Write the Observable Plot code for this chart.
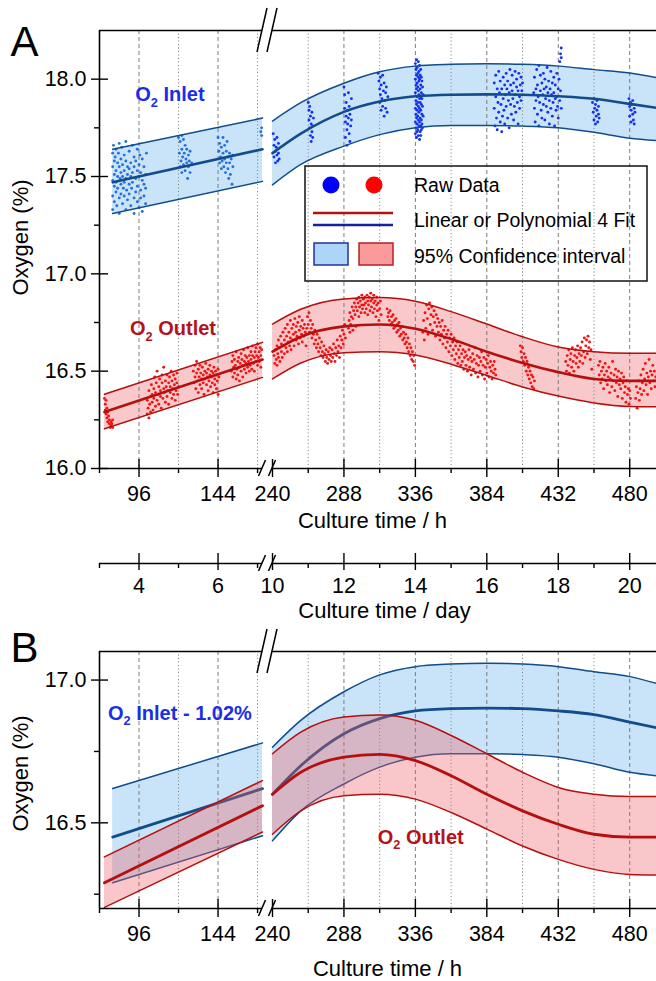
<!DOCTYPE html>
<html><head><meta charset="utf-8">
<script src="https://cdn.jsdelivr.net/npm/d3@7"></script>
<script src="https://cdn.jsdelivr.net/npm/@observablehq/plot@0.6"></script>
<style>
html,body{margin:0;padding:0;background:#fff;}
#fig{position:relative;width:656px;height:981px;overflow:hidden;}
#fig svg{display:block;overflow:visible;}
</style></head><body><div id="fig"></div>
<script>
// ---------- axis structure (hours) ----------
const segLeft = [72, 171];
const segRight = [240, 498];
const majorTicksH = [96, 144, 240, 288, 336, 384, 432, 480];
const minorTicksH = [72, 120, 168, 264, 312, 360, 408, 456];
const gridMajorH = [96, 144, 288, 336, 384, 432, 480];
const gridMinorH = [120, 168, 264, 312, 360, 408, 456];
const yDomainA = [16.0, 18.25];
const yTicksA = [16.0, 16.5, 17.0, 17.5, 18.0];
const yMinorA = [16.25, 16.75, 17.25, 17.75];
const yDomainB = [16.2, 17.1];
const yTicksB = [16.5, 17.0];
const yMinorB = [16.25, 16.75];
const inletShift = 1.02;

// ---------- fits (linear left, polynomial right) ----------
const inletLeftHours = [80, 171];
const inletLeftLo = [17.31, 17.475];
const inletLeftMid = [17.47, 17.64];
const inletLeftUp = [17.64, 17.80];
const outletLeftHours = [75, 171];
const outletLeftLo = [16.204, 16.468];
const outletLeftMid = [16.29, 16.56];
const outletLeftUp = [16.381, 16.648];
const fitHoursRight = [240, 259, 288, 312, 336, 360, 384, 408, 432, 456, 480, 498];
const inletRightLo = [17.457, 17.562, 17.656, 17.715, 17.75, 17.762, 17.762, 17.759, 17.75, 17.727, 17.697, 17.685];
const inletRightMid = [17.62, 17.72, 17.832, 17.885, 17.912, 17.92, 17.922, 17.92, 17.912, 17.899, 17.873, 17.853];
const inletRightUp = [17.785, 17.879, 17.979, 18.038, 18.067, 18.076, 18.079, 18.076, 18.067, 18.049, 18.032, 18.008];
const outletRightLo = [16.46, 16.542, 16.595, 16.60, 16.583, 16.536, 16.478, 16.419, 16.372, 16.337, 16.319, 16.317];
const outletRightMid = [16.60, 16.677, 16.73, 16.74, 16.718, 16.665, 16.60, 16.542, 16.495, 16.46, 16.45, 16.45];
const outletRightUp = [16.742, 16.818, 16.871, 16.878, 16.859, 16.806, 16.742, 16.677, 16.624, 16.60, 16.592, 16.592];

// ---------- raw data [hour, O2 %] ----------
const inletRawLeft = [
[80,17.62],[80,17.55],[80,17.48],[80,17.40],[80,17.33],[80.5,17.66],[81,17.58],[81,17.51],[81,17.45],[81,17.37],[81.5,17.60],[82,17.64],[82,17.53],[82,17.47],[82,17.42],[82.5,17.35],[83,17.57],[83,17.50],[83,17.44],[83.5,17.62],[84,17.67],[84,17.55],[84,17.39],[84,17.31],[84.5,17.49],[85,17.59],[85,17.52],[85,17.46],[85,17.41],[85.5,17.65],[86,17.56],[86,17.50],[86,17.36],[86.5,17.44],[87,17.61],[87,17.53],[87,17.47],[87,17.40],[88,17.68],[88,17.58],[88,17.49],[88,17.33],[88.5,17.43],[89,17.55],[89,17.51],[89,17.38],[90,17.63],[90,17.54],[90,17.46],[90,17.41],[91,17.57],[91,17.50],[91,17.35],[91.5,17.44],[92,17.66],[92,17.52],[92,17.47],[93,17.60],[93,17.55],[93,17.39],[93,17.31],[94,17.58],[94,17.49],[94,17.42],[95,17.64],[95,17.53],[95,17.45],[95,17.37],[96,17.56],[96,17.50],[96,17.34],[96.5,17.61],[97,17.52],[97,17.43],[97,17.39],[98,17.59],[98,17.48],[98,17.32],[99,17.55],[99,17.46],[99,17.40],[100,17.51],[100,17.44],[100,17.36],[100.5,17.62],
[120,17.70],[120.5,17.62],[121,17.55],[121,17.68],[121.5,17.58],[122,17.71],[122,17.64],[122,17.52],[122.5,17.60],[123,17.69],[123,17.56],[123.5,17.62],[124,17.66],[124,17.53],[124.5,17.59],[125,17.64],[125,17.57],[125.5,17.49],[126,17.61],[126,17.55],[126.5,17.58],[127,17.52],[127,17.63],[128,17.57],
[144,17.70],[144.5,17.63],[145,17.57],[145,17.67],[145.5,17.60],[146,17.54],[146,17.65],[146.5,17.58],[147,17.70],[147,17.62],[147.5,17.55],[148,17.66],[148,17.59],[148.5,17.52],[149,17.63],[149,17.57],[149.5,17.68],[150,17.60],[150,17.54],[150.5,17.49],[151,17.62],[151,17.57],[151.5,17.51],[152,17.59],[152.5,17.46],[153,17.55],[153,17.61],
[170,17.73],[170.5,17.71],[170.5,17.75]
];
const inletRawRight = [
[240.5,17.72],[241,17.66],[241,17.60],[241.5,17.69],[242,17.63],[242,17.57],[242.5,17.65],[243,17.70],[243,17.61],[243.5,17.58],[244,17.67],[244,17.62],[244.5,17.59],
[264,17.88],[264.5,17.84],[264.5,17.79],[265,17.75],[265,17.86],[265.5,17.71],[265.5,17.81],[266,17.68],[266,17.77],[266.5,17.73],[266.5,17.83],[267,17.70],[267,17.76],[267.5,17.80],
[288,17.96],[288.5,17.92],[288.5,17.85],[289,17.78],[289,17.70],[289.5,17.88],[289.5,17.81],[290,17.74],[290,17.66],[290.5,17.84],[290.5,17.77],[291,17.93],[291,17.80],[291.5,17.72],[291.5,17.86],[292,17.68],[292,17.82],[292.5,17.76],[293,17.90],[293,17.79],
[311,18.03],[311.5,17.99],[312,17.95],[312,17.88],[312.5,18.01],[312.5,17.92],[313,17.84],[313,17.97],[313.5,17.90],[314,18.02],[314,17.86],[314.5,17.94],[315,17.81],[315,17.98],[315.5,17.89],[316,17.93],[316,17.85],[316.5,17.96],[317,17.83],[317.5,17.91],
[336,18.08],[336,18.00],[336,17.93],[336,17.85],[336,17.78],[336,17.72],[336.4,18.05],[336.4,17.97],[336.4,17.89],[336.4,17.82],[336.4,17.75],[336.8,18.10],[336.8,18.02],[336.8,17.95],[336.8,17.87],[336.8,17.80],[336.8,17.70],[337.2,18.06],[337.2,17.98],[337.2,17.91],[337.2,17.84],[337.2,17.77],[337.2,17.73],[337.6,18.03],[337.6,17.96],[337.6,17.88],[337.6,17.81],[337.6,17.74],[338,18.09],[338,18.01],[338,17.94],[338,17.86],[338,17.79],[338,17.71],[338.4,18.04],[338.4,17.99],[338.4,17.92],[338.4,17.83],[338.4,17.76],[338.8,18.07],[338.8,18.00],[338.8,17.90],[338.8,17.85],[338.8,17.78],[338.8,17.69],[339.2,18.02],[339.2,17.95],[339.2,17.88],[339.2,17.80],[339.2,17.73],[339.6,18.05],[339.6,17.97],[339.6,17.91],[339.6,17.84],[339.6,17.76],[339.6,17.71],[340,18.01],[340,17.93],[340,17.87],[340,17.79],[340,17.74],[340.4,17.99],[340.4,17.90],[340.4,17.82],[340.4,17.77],[340.8,17.96],[340.8,17.86],[340.8,17.75],[341.2,17.92],[341.2,17.81],
[389,17.98],[389,17.85],[389.5,17.76],[390,18.02],[390,17.91],[390.5,17.80],[391,17.95],[391,17.74],[391.5,17.88],[392,18.04],[392,17.83],[392.5,17.93],[393,17.78],[393,17.99],[393.5,17.87],[394,17.95],[394,17.73],[394.5,17.81],[395,18.01],[395,17.90],[395.5,17.84],[396,17.97],[396,17.77],[396.5,17.92],[397,18.03],[397,17.86],[397.5,17.95],[398,17.80],[398,17.99],[398.5,17.89],[399,17.93],[399,17.75],[399.5,18.05],[400,17.87],[400,17.97],[400.5,17.82],[401,17.94],[401,18.02],[401.5,17.90],[402,17.79],[402,17.98],[402.5,17.86],[403,18.04],[403,17.92],[403.5,17.83],[404,17.96],[404,18.00],[404.5,17.88],[405,17.94],[405,17.77],[405.5,18.03],[406,17.91],[406,17.85],[406.5,17.97],[407,18.01],[407,17.89],[407.5,17.94],[408,17.98],
[415.5,17.93],[416,17.85],[416,18.01],[416.5,17.78],[417,17.95],[417,17.89],[417.5,18.05],[418,17.82],[418,17.97],[418.5,17.91],[419,18.07],[419,17.76],[419.5,17.88],[420,17.94],[420,18.02],[420.5,17.84],[421,17.98],[421,17.80],[421.5,17.92],[422,18.03],[422,17.87],[422.5,17.95],[423,17.79],[423,18.00],[423.5,17.90],[424,17.86],[424,17.96],[424.5,18.06],[425,17.83],[425,17.93],[425.5,17.99],[426,17.77],[426,17.89],[426.5,17.95],[427,18.04],[427,17.85],[427.5,17.92],[428,17.81],[428,17.98],[428.5,17.88],[429,18.01],[429,17.93],[429.5,17.76],[430,17.90],[430,17.97],[430.5,17.84],[431,18.03],[431,17.91],[431.5,17.86],[432,17.95],[432,17.80],[432.5,18.00],[433,17.89],[433,18.09],[433.5,18.13],[434,18.16],[434,18.11],[433.5,17.94],[434,17.85],
[455,17.88],[455.5,17.83],[456,17.79],[456,17.90],[456.5,17.85],[457,17.77],[457,17.87],[457.5,17.81],[458,17.84],[458,17.89],[458.5,17.78],[459,17.86],[459,17.82],[459.5,17.80],
[479.5,17.90],[480,17.86],[480,17.81],[480.5,17.88],[481,17.84],[481,17.78],[481.5,17.87],[482,17.82],[482,17.89],[482.5,17.79],[483,17.85],[483,17.77],[483.5,17.83]
];
const outletRawLeft = [
[75,16.36],[75.5,16.33],[75.5,16.30],[76,16.35],[76,16.28],[76.5,16.31],[76.5,16.26],[77,16.29],[77,16.24],[77.5,16.27],[78,16.23],[78,16.25],[78.5,16.21],[79,16.24],[79,16.22],[79.5,16.23],[80,16.21],[80,16.25],
[101,16.28],[101,16.35],[101.5,16.31],[102,16.26],[102,16.40],[102.5,16.33],[103,16.37],[103,16.29],[103.5,16.43],[104,16.34],[104,16.38],[104.5,16.30],[105,16.41],[105,16.36],[105.5,16.47],[106,16.32],[106,16.39],[106.5,16.44],[107,16.35],[107,16.50],[107.5,16.38],[108,16.42],[108,16.33],[108.5,16.46],[109,16.37],[109,16.40],[109.5,16.31],[110,16.44],[110,16.48],[110.5,16.36],[111,16.41],[111,16.52],[111.5,16.39],[112,16.34],[112,16.45],[112.5,16.42],[113,16.48],[113,16.37],[113.5,16.40],[114,16.44],[114,16.33],[114.5,16.47],[115,16.39],[115,16.42],[115.5,16.50],[116,16.36],[116,16.45],[116.5,16.41],[117,16.48],[117,16.38],[117.5,16.43],[118,16.46],[118,16.35],[118.5,16.40],[119,16.44],[119,16.49],[119.5,16.38],[120,16.42],
[129,16.50],[129.5,16.44],[130,16.53],[130,16.47],[130.5,16.41],[131,16.49],[131,16.55],[131.5,16.45],[132,16.51],[132,16.39],[132.5,16.47],[133,16.43],[133,16.53],[133.5,16.49],[134,16.46],[134,16.41],[134.5,16.52],[135,16.48],[135,16.44],[135.5,16.38],[136,16.50],[136,16.46],[136.5,16.54],[137,16.43],[137,16.49],[137.5,16.47],[138,16.51],[138,16.40],[138.5,16.45],[139,16.48],[139,16.53],[139.5,16.42],[140,16.47],[140,16.50],[140.5,16.44],[141,16.39],[141,16.49],[141.5,16.52],[142,16.46],[142,16.43],[142.5,16.50],[143,16.48],[143,16.41],[143.5,16.45],[144,16.51],[144,16.38],[144.5,16.47],
[152,16.50],[152.5,16.55],[153,16.47],[153,16.58],[153.5,16.52],[154,16.49],[154,16.56],[154.5,16.53],[155,16.46],[155,16.60],[155.5,16.51],[156,16.55],[156,16.48],[156.5,16.57],[157,16.52],[157,16.45],[157.5,16.54],[158,16.59],[158,16.50],[158.5,16.56],[159,16.53],[159,16.47],[159.5,16.61],[160,16.55],[160,16.51],[160.5,16.58],[161,16.49],[161,16.54],[161.5,16.57],[162,16.52],[162,16.62],[162.5,16.55],[163,16.50],[163,16.58],[163.5,16.53],[164,16.60],[164,16.56],[164.5,16.51],[165,16.58],[165,16.63],[165.5,16.54],[166,16.57],[166,16.50],[166.5,16.60],[167,16.55],[167,16.62],[167.5,16.58],[168,16.53],[168,16.64],[168.5,16.57],[169,16.60],[169,16.55],[169.5,16.62],[170,16.58],[170,16.52],[170.5,16.61]
];
const outletRawRight = [
[241,16.58],[241.5,16.54],[242,16.61],[242.5,16.56],[243,16.63],[243,16.53],[243.5,16.59],[244,16.66],[244,16.57],[244.5,16.62],[245,16.55],[245.5,16.68],[246,16.60],[246,16.64],[246.5,16.57],[247,16.70],[247.5,16.63],[248,16.66],[248,16.59],[248.5,16.72],[249,16.62],[249.5,16.68],[250,16.74],[250,16.60],[250.5,16.65],[251,16.70],[251.5,16.63],[252,16.76],[252,16.67],[252.5,16.61],[253,16.72],[253.5,16.66],[254,16.69],[254,16.74],[254.5,16.63],[255,16.77],[255.5,16.70],[256,16.66],[256,16.73],[256.5,16.68],[257,16.75],[257.5,16.64],[258,16.71],[258,16.78],[258.5,16.67],[259,16.73],[259.5,16.69],[260,16.76],[260,16.65],[260.5,16.72],[261,16.68],[261.5,16.74],[262,16.70],[262.5,16.63],[263,16.72],
[263.5,16.78],[264,16.74],[264.5,16.80],[265,16.70],[265.5,16.76],[266,16.72],[266.5,16.67],[267,16.74],[267.5,16.69],[268,16.64],[268.5,16.71],[269,16.66],[269.5,16.62],[270,16.69],[270.5,16.64],[271,16.60],[271.5,16.67],[272,16.62],[272.5,16.58],[273,16.65],[273.5,16.60],[274,16.57],[274.5,16.63],[275,16.59],[275.5,16.55],[276,16.61],[276.5,16.57],[277,16.54],[277.5,16.60],[278,16.56],[278.5,16.62],[279,16.58],[279.5,16.55],[280,16.61],[280.5,16.57],[281,16.64],[281.5,16.59],[282,16.55],[282.5,16.62],[283,16.58],[283.5,16.66],[284,16.60],[284.5,16.63],[285,16.57],[285.5,16.68],[286,16.62],[286.5,16.66],[287,16.71],[287.5,16.64],[288,16.69],[288.5,16.74],[289,16.67],
[291,16.72],[291.5,16.76],[292,16.80],[292,16.70],[292.5,16.74],[293,16.78],[293.5,16.83],[294,16.77],[294,16.71],[294.5,16.81],[295,16.85],[295.5,16.79],[296,16.83],[296,16.73],[296.5,16.87],[297,16.81],[297.5,16.85],[298,16.88],[298,16.78],[298.5,16.83],[299,16.86],[299.5,16.80],[300,16.84],[300,16.89],[300.5,16.82],[301,16.87],[301.5,16.84],[302,16.80],[302,16.88],[302.5,16.85],[303,16.82],[303.5,16.89],[304,16.86],[304,16.79],[304.5,16.84],[305,16.88],[305.5,16.81],[306,16.86],[306,16.90],[306.5,16.83],[307,16.87],[307.5,16.80],[308,16.85],[308,16.89],[308.5,16.82],[309,16.86],[309.5,16.78],[310,16.84],[310,16.88],[310.5,16.81],[311,16.85],[311.5,16.76],[312,16.82],[312.5,16.86],[313,16.79],
[317,16.82],[317.5,16.78],[318,16.80],[318.5,16.76],[319,16.81],[319.5,16.74],[320,16.78],[320.5,16.75],[321,16.79],[321.5,16.72],[322,16.76],[322.5,16.73],[323,16.77],[323.5,16.70],[324,16.74],[324.5,16.71],[325,16.75],[325.5,16.68],[326,16.72],[326.5,16.69],[327,16.73],[327.5,16.66],[328,16.70],[328.5,16.67],[329,16.64],[329.5,16.69],[330,16.65],[330.5,16.62],[331,16.67],[331.5,16.60],[332,16.64],[332.5,16.58],[333,16.62],[333.5,16.56],[334,16.60],[334.5,16.55],[335,16.58],[335.5,16.53],
[341,16.70],[341.5,16.76],[342,16.66],[342.5,16.80],[343,16.72],[343.5,16.84],[344,16.77],[344.5,16.69],[345,16.82],[345.5,16.85],[346,16.74],[346.5,16.79],[347,16.83],[347.5,16.71],[348,16.78],[348.5,16.81],[349,16.75],[349.5,16.68],[350,16.79],[350.5,16.73],[351,16.77],[351.5,16.70],[352,16.75],[352.5,16.66],[353,16.73],[353.5,16.69],[354,16.76],[354.5,16.64],[355,16.71],[355.5,16.67],[356,16.73],[356.5,16.62],[357,16.69],[357.5,16.65],[358,16.71],[358.5,16.60],[359,16.67],[359.5,16.63],[360,16.69],[360.5,16.58],[361,16.65],[361.5,16.61],[362,16.67],[362.5,16.56],[363,16.63],[363.5,16.59],[364,16.65],[364.5,16.54],[365,16.61],[365.5,16.57],[366,16.63],[366.5,16.53],[367,16.59],[367.5,16.55],[368,16.61],[368.5,16.51],[369,16.57],[369.5,16.60],[370,16.53],[370.5,16.58],[371,16.50],[371.5,16.56],[372,16.61],[372.5,16.52],[373,16.57],[373.5,16.48],[374,16.55],[374.5,16.59],[375,16.51],[375.5,16.56],[376,16.62],[376.5,16.49],[377,16.54],[377.5,16.58],[378,16.47],[378.5,16.53],[379,16.57],[379.5,16.50],[380,16.55],[380.5,16.60],[381,16.48],[381.5,16.53],[382,16.57],[382.5,16.46],[383,16.52],[383.5,16.56],[384,16.49],[384.5,16.54],[385,16.58],[385.5,16.47],[386,16.52],[386.5,16.55],[387,16.50],[387.5,16.46],[388,16.53],[388.5,16.49],[389,16.55],[389.5,16.51],[390,16.48],
[406.5,16.63],[407,16.60],[407.5,16.57],[408,16.62],[408.5,16.55],[409,16.59],[409.5,16.53],[410,16.57],[410.5,16.50],[411,16.55],[411.5,16.48],[412,16.52],[412.5,16.46],[413,16.50],[413.5,16.44],[414,16.48],[414.5,16.42],[415,16.47],[415.5,16.41],[416,16.45],
[437,16.55],[437.5,16.50],[438,16.58],[438.5,16.53],[439,16.61],[439.5,16.49],[440,16.56],[440.5,16.59],[441,16.52],[441.5,16.62],[442,16.55],[442.5,16.50],[443,16.58],[443.5,16.61],[444,16.54],[444.5,16.57],[445,16.63],[445.5,16.52],[446,16.59],[446.5,16.55],[447,16.62],[447.5,16.58],[448,16.65],[448.5,16.54],[449,16.60],[449.5,16.67],[450,16.57],[450.5,16.63],[451,16.66],[451.5,16.59],[452,16.68],[452.5,16.62],[453,16.65],[453.5,16.56],[454,16.61],[454.5,16.51],
[459,16.53],[459.5,16.48],[460,16.55],[460.5,16.44],[461,16.50],[461.5,16.46],[462,16.52],[462.5,16.41],[463,16.48],[463.5,16.54],[464,16.45],[464.5,16.50],[465,16.43],[465.5,16.47],[466,16.52],[466.5,16.39],[467,16.46],[467.5,16.49],[468,16.42],[468.5,16.55],[469,16.45],[469.5,16.48],[470,16.40],[470.5,16.51],[471,16.44],[471.5,16.47],[472,16.37],[472.5,16.50],[473,16.43],[473.5,16.46],[474,16.41],[474.5,16.49],[475,16.36],[475.5,16.44],[476,16.47],[476.5,16.39],[477,16.42],[477.5,16.34],[478,16.45],[478.5,16.38],[479,16.41],[479.5,16.33],[480,16.40],[480.5,16.36],
[484,16.36],[484.5,16.42],[485,16.31],[485.5,16.39],[486,16.45],[486.5,16.35],[487,16.41],[487.5,16.48],[488,16.38],[488.5,16.44],[489,16.51],[489.5,16.40],[490,16.46],[490.5,16.54],[491,16.43],[491.5,16.49],[492,16.38],[492.5,16.47],[493,16.56],[493.5,16.44],[494,16.50],[494.5,16.41],[495,16.48],[495.5,16.53],[496,16.45],[496.5,16.50],[497,16.42],[497.5,16.47]
];

// ---------- helpers ----------
const FONT = '"Liberation Sans", Arial, Helvetica, sans-serif';
const W = 656, ML = 99, LEFT_PX = 163, GAP_PX = 10;
const C = {
  inFill: "#c9e3f8", inLine: "#124d8b", inDot: "#2571d9", inDot2: "#1232f0",
  outFill: "#f9c8ca", outLine: "#b3100f", outDot: "#f01414",
  inText: "#1a2ee6", outText: "#b5121b", grid: "#7d7d7d"
};
const DOT_R = 1.45;
function svgEl(tag, attrs = {}) {
  const e = document.createElementNS("http://www.w3.org/2000/svg", tag);
  for (const [k, v] of Object.entries(attrs)) e.setAttribute(k, v);
  return e;
}
function xScale() {
  return {type: "linear", domain: [segLeft[0], segLeft[1], segRight[0], segRight[1]],
          range: [ML, ML + LEFT_PX, ML + LEFT_PX + GAP_PX, W], label: null};
}
function fitRows(hours, lo, mid, up, seg, shift = 0) {
  return hours.map((h, i) => ({h, lo: lo[i] - shift, mid: mid[i] - shift, up: up[i] - shift, seg}));
}
function inletRows(shift) {
  return [...fitRows(inletLeftHours, inletLeftLo, inletLeftMid, inletLeftUp, "L", shift),
          ...fitRows(fitHoursRight, inletRightLo, inletRightMid, inletRightUp, "R", shift)];
}
function outletRows() {
  return [...fitRows(outletLeftHours, outletLeftLo, outletLeftMid, outletLeftUp, "L"),
          ...fitRows(fitHoursRight, outletRightLo, outletRightMid, outletRightUp, "R")];
}
const area = (rows, fill, fillOpacity = 1) =>
  Plot.areaY(rows, {x: "h", y1: "lo", y2: "up", z: "seg", fill, fillOpacity, curve: "monotone-x"});
const lines = (rows, color, midW, edgeW) => [
  Plot.lineY(rows, {x: "h", y: "up", z: "seg", stroke: color, strokeWidth: edgeW, curve: "monotone-x"}),
  Plot.lineY(rows, {x: "h", y: "lo", z: "seg", stroke: color, strokeWidth: edgeW, curve: "monotone-x"}),
  Plot.lineY(rows, {x: "h", y: "mid", z: "seg", stroke: color, strokeWidth: midW, curve: "monotone-x"})
];
const grid = () => [
  Plot.ruleX(gridMajorH, {stroke: C.grid, strokeWidth: 1, strokeDasharray: "4,3"}),
  Plot.ruleX(gridMinorH, {stroke: C.grid, strokeWidth: 1, strokeDasharray: "1,2.5"})
];
const frame = (yDom) => [
  Plot.ruleX([segLeft[0]], {stroke: "#000", strokeWidth: 1.6}),
  Plot.ruleY([segLeft, segRight], {x1: d => d[0], x2: d => d[1], y: () => yDom[1], stroke: "#000", strokeWidth: 1.6}),
  Plot.ruleY([segLeft, segRight], {x1: d => d[0], x2: d => d[1], y: () => yDom[0], stroke: "#000", strokeWidth: 1.6})
];
const blank = () => "";
const axes = (yMajor, yMinor) => [
  Plot.axisY({ticks: yMajor, tickSize: 17, dx: 9, tickFormat: blank, label: null, strokeWidth: 1.4}),
  Plot.axisY({ticks: yMinor, tickSize: 5, tickFormat: blank, label: null, strokeWidth: 1.4}),
  Plot.axisY({ticks: yMajor, tickSize: 0, tickPadding: 13, tickFormat: d3.format(".1f"), label: null, fontSize: 21.5}),
  Plot.axisX({ticks: majorTicksH, tickSize: 18, dy: -9, tickFormat: blank, label: null, strokeWidth: 1.4}),
  Plot.axisX({ticks: minorTicksH, tickSize: 5, tickFormat: blank, label: null, strokeWidth: 1.4}),
  Plot.axisX({ticks: majorTicksH, tickSize: 0, tickPadding: 17, tickFormat: d => String(d), label: null, fontSize: 21.5})
];
function breakMarks(which) {
  return (index, scales, values, dims) => {
    const X = scales.x;
    const g = svgEl("g", {stroke: "#000", "stroke-width": 1.5, fill: "none"});
    const xs = [X(segLeft[1]), X(segRight[0])];
    const top = dims.marginTop, bottom = dims.height - dims.marginBottom;
    const specs = [];
    if (which.includes("top")) specs.push([top, 22, 5]);
    if (which.includes("bottom")) specs.push([bottom, 8, 3.5]);
    for (const [yc, hh, hw] of specs) for (const xc of xs)
      g.append(svgEl("line", {x1: xc - hw, y1: yc + hh, x2: xc + hw, y2: yc - hh}));
    return g;
  };
}
function o2Label(h, v, rest, color, size = 20) {
  return (index, scales) => {
    const t = svgEl("text", {x: scales.x(h), y: scales.y(v) + 0.36 * size, fill: color,
      "font-size": size, "font-weight": "bold", "font-family": FONT, "text-anchor": "start"});
    const a = svgEl("tspan"); a.textContent = "O";
    const b = svgEl("tspan", {"font-size": size * 0.64, dy: 0.28 * size}); b.textContent = "2";
    const c = svgEl("tspan", {"font-size": size, dy: -0.28 * size}); c.textContent = rest;
    t.append(a, b, c);
    return t;
  };
}
function legendA() {
  return () => {
    const g = svgEl("g", {"font-family": FONT, "font-size": 19.5, "text-anchor": "start"});
    g.append(svgEl("rect", {x: 305, y: 166, width: 342, height: 115, fill: "none", stroke: "#111", "stroke-width": 1.5}));
    g.append(svgEl("circle", {cx: 331, cy: 185, r: 8.5, fill: "#0000ff"}));
    g.append(svgEl("circle", {cx: 374, cy: 185, r: 8.5, fill: "#ff0000"}));
    g.append(svgEl("line", {x1: 313, x2: 393, y1: 213, y2: 213, stroke: "#b3100f", "stroke-width": 2.4}));
    g.append(svgEl("line", {x1: 313, x2: 393, y1: 225, y2: 225, stroke: "#1a1f9c", "stroke-width": 2.4}));
    g.append(svgEl("rect", {x: 314, y: 243, width: 34, height: 22, fill: "#acd5f7", stroke: "#2231a3", "stroke-width": 1.5}));
    g.append(svgEl("rect", {x: 359, y: 243, width: 34, height: 22, fill: "#f99a9b", stroke: "#b52025", "stroke-width": 1.5}));
    const rows = [["Raw Data", 185], ["Linear or Polynomial 4 Fit", 220], ["95% Confidence interval", 256]];
    for (const [s, cy] of rows) {
      const t = svgEl("text", {x: 414, y: cy + 0.36 * 19.5, fill: "#000", "text-anchor": "start"});
      t.textContent = s; g.append(t);
    }
    return g;
  };
}
const styleBase = {fontFamily: FONT, fontSize: "21px", color: "#000", background: "transparent", overflow: "visible"};
const yTitle = (dy) => Plot.text(["Oxygen (%)"], {frameAnchor: "left", textAnchor: "middle", lineAnchor: "middle", rotate: -90, dx: -79, dy, fontSize: 22});
const xTitle = (s, dx, dy) => Plot.text([s], {frameAnchor: "bottom", textAnchor: "middle", lineAnchor: "middle", dx, dy, fontSize: 22});
const letter = (s, dy) => Plot.text([s], {frameAnchor: "top-left", dx: -89, dy, textAnchor: "start", lineAnchor: "bottom", fontSize: 42});

// ---------- Panel A ----------
const inA = inletRows(0), outA = outletRows();
const plotA = Plot.plot({
  width: W, height: 543, marginTop: 30, marginBottom: 75, marginLeft: ML, marginRight: 0,
  style: styleBase,
  x: xScale(), y: {domain: yDomainA, label: null},
  marks: [
    area(inA, C.inFill), area(outA, C.outFill),
    ...grid(),
    Plot.dot(inletRawLeft, {x: d => d[0], y: d => d[1], r: DOT_R, fill: C.inDot}),
    Plot.dot(inletRawRight, {x: d => d[0], y: d => d[1], r: DOT_R, fill: C.inDot2}),
    Plot.dot(outletRawLeft, {x: d => d[0], y: d => d[1], r: DOT_R, fill: C.outDot}),
    Plot.dot(outletRawRight, {x: d => d[0], y: d => d[1], r: DOT_R, fill: C.outDot}),
    ...lines(inA, C.inLine, 2.6, 1.5),
    ...lines(outA, C.outLine, 2.6, 1.5),
    ...frame(yDomainA), ...axes(yTicksA, yMinorA),
    breakMarks(["top", "bottom"]),
    o2Label(94, 17.92, " Inlet", C.inText),
    o2Label(90.8, 16.72, " Outlet", C.outText),
    legendA(),
    letter("A", 25),
    yTitle(-12),
    xTitle("Culture time / h", -5.5, 52)
  ]
});

// ---------- day axis ----------
const plotDay = Plot.plot({
  width: W, height: 85, marginTop: 20, marginBottom: 65, marginLeft: ML, marginRight: 0,
  style: styleBase,
  x: xScale(), y: {domain: [0, 1], axis: null},
  marks: [
    Plot.ruleY([segLeft, segRight], {x1: d => d[0], x2: d => d[1], y: () => 0, stroke: "#000", strokeWidth: 1.6}),
    Plot.axisX({ticks: majorTicksH, tickSize: 17, dy: -10, tickFormat: blank, label: null, strokeWidth: 1.4}),
    Plot.axisX({ticks: minorTicksH, tickSize: 5, tickFormat: blank, label: null, strokeWidth: 1.4}),
    Plot.axisX({ticks: majorTicksH, tickSize: 0, tickPadding: 14, tickFormat: h => String(h / 24), label: null, fontSize: 21.5}),
    breakMarks(["bottom"]),
    xTitle("Culture time / day", 6.5, 47)
  ]
});

// ---------- Panel B ----------
const inB = inletRows(inletShift), outB = outletRows();
const plotB = Plot.plot({
  width: W, height: 353, marginTop: 23, marginBottom: 73, marginLeft: ML, marginRight: 0,
  style: styleBase,
  x: xScale(), y: {domain: yDomainB, label: null},
  marks: [
    area(inB, C.inFill),
    ...grid(),
    ...lines(inB, C.inLine, 2.8, 1.5),
    area(outB, "rgb(238,95,101)", 0.35),
    ...lines(outB, C.outLine, 2.8, 1.5),
    ...frame(yDomainB), ...axes(yTicksB, yMinorB),
    breakMarks(["top", "bottom"]),
    o2Label(77.5, 16.884, " Inlet - 1.02%", C.inText),
    o2Label(311, 16.451, " Outlet", C.outText),
    letter("B", 10),
    yTitle(-6.5),
    xTitle("Culture time / h", 9.5, 60)
  ]
});

const fig = document.getElementById("fig");
fig.append(plotA, plotDay, plotB);
</script></body></html>
